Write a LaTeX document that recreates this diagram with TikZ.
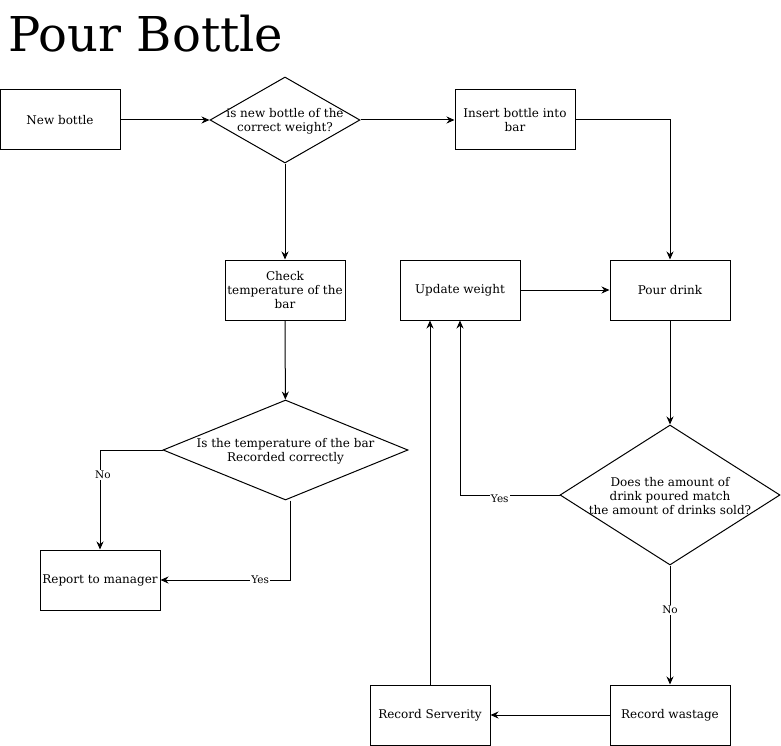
\documentclass[tikz,border=0pt]{standalone}
\usepackage{fontspec}
\setmainfont{DejaVu Serif}
\usetikzlibrary{arrows.meta, shapes.geometric}

\begin{document}
\begin{tikzpicture}[x=1pt, y=-1pt, line width=1pt, font=\fontsize{12}{14}\selectfont,
    box/.style={draw, minimum width=120pt, minimum height=60pt, align=center, inner sep=2pt},
    decision/.style={draw, diamond, inner sep=0pt},
    flow/.style={-{Stealth[length=8pt, width=7pt]}},
    tag/.style={fill=white, inner sep=1pt, font=\fontsize{10.5}{12}\selectfont}]
    \useasboundingbox (0,0) rectangle (781,746);

    % 標題
    \node[anchor=base west, inner sep=0pt, font=\fontsize{48}{56}\selectfont] (title) at (8,52) {Pour Bottle};

    % 方框
    \node[box] (new) at (60,120) {New bottle};
    \node[box] (insert) at (515,120) {Insert bottle into\\bar};
    \node[box] (check) at (285,290) {Check\\temperature of the\\bar};
    \node[box] (update) at (460,290) {Update weight};
    \node[box] (pour) at (670,290) {Pour drink};
    \node[box] (report) at (100,580) {Report to manager};
    \node[box] (severity) at (430,715) {Record Serverity};
    \node[box] (wastage) at (670,715) {Record wastage};

    % 判斷
    \node[decision, minimum width=150pt, minimum height=86pt] (d1) at (285,120) {};
    \node[align=center, inner sep=0pt] (d1text) at ([yshift=-1pt]d1) {is new bottle of the\\correct weight?};
    \node[decision, minimum width=245pt, minimum height=100pt] (d2) at (285.5,450) {};
    \node[align=center, inner sep=0pt] (d2text) at ([yshift=-1pt]d2) {Is the temperature of the bar\\Recorded correctly};
    \node[decision, minimum width=220pt, minimum height=140pt] (d3) at (670,495) {};
    \node[align=center, inner sep=0pt] (d3text) at ([yshift=-1pt]d3) {Does the amount of\\drink poured match\\the amount of drinks sold?};

    % 連線
    \draw[flow] (new) -- (d1);
    \draw[flow] (d1) -- (insert);
    \draw[flow] (insert.east) -| (pour.north);
    \draw[flow] (d1) -- (check);
    \draw[flow] (check) -- (d2);
    \draw[flow] (d2.west) -| node[tag, pos=0.625, xshift=3pt] {No} (report.north);
    \draw[flow] ([xshift=4.5pt]d2.south) |- node[tag, pos=0.615] {Yes} (report.east);
    \draw[flow] (update) -- (pour);
    \draw[flow] (pour) -- (d3);
    \draw[flow] (d3.west) -| node[tag, pos=0.3, yshift=-4pt] {Yes} (update.south);
    \draw[flow] (d3) -- node[tag, pos=0.375] {No} (wastage);
    \draw[flow] (wastage) -- (severity);
    \draw[flow] (severity) -- (severity |- update.south);
  \end{tikzpicture}
\end{document}
